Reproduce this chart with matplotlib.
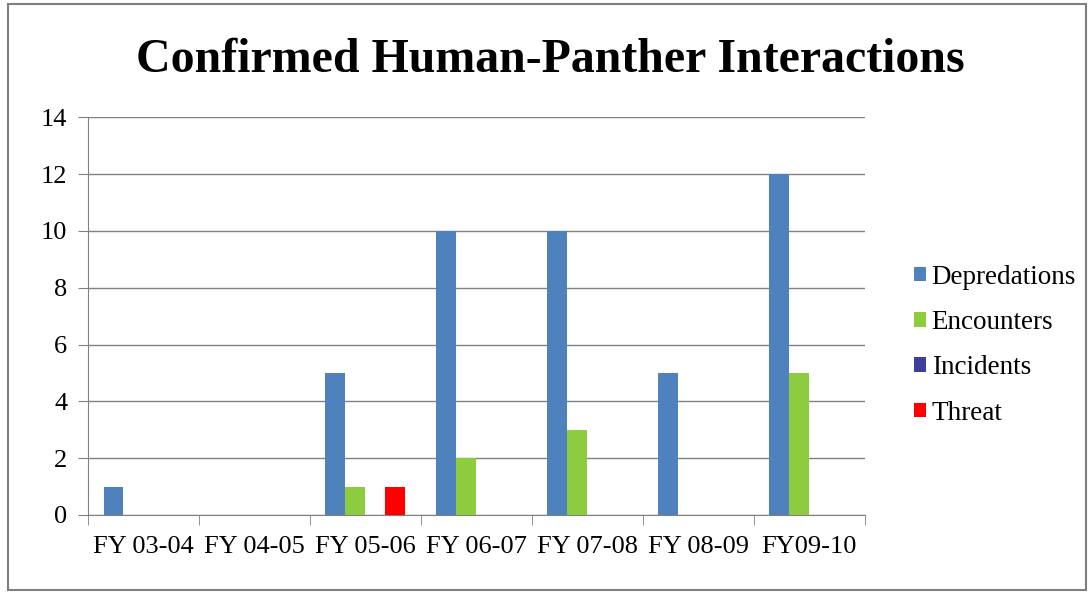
import numpy as np
import matplotlib.pyplot as plt
from matplotlib.patches import Rectangle

# Data
years = ["FY 03-04", "FY 04-05", "FY 05-06", "FY 06-07", "FY 07-08", "FY 08-09", "FY09-10"]
depredations = [1, 0, 5, 10, 10, 5, 12]
encounters = [0, 0, 1, 2, 3, 0, 5]
incidents = [0, 0, 0, 0, 0, 0, 0]
threat = [0, 0, 1, 0, 0, 0, 0]

series = [("Depredations", depredations, "#4F81BD"),
          ("Encounters", encounters, "#8DCB3F"),
          ("Incidents", incidents, "#3D3D9A"),
          ("Threat", threat, "#FF0000")]

plt.rcParams["font.family"] = ["Liberation Serif", "DejaVu Serif"]

fig = plt.figure(figsize=(10.89, 5.95), dpi=100)
ax = fig.add_axes([0.0808, 0.1345, 0.7132, 0.6685])

x = np.arange(len(years))
w = 0.18
for i, (name, vals, col) in enumerate(series):
    ax.bar(x + (i - 1.5) * w, vals, w, color=col, label=name, zorder=3)

ax.set_xlim(-0.5, len(years) - 0.5)
ax.set_ylim(0, 14)
ax.set_yticks(range(0, 15, 2))
ax.grid(axis="y", color="#808080", linewidth=1.0, zorder=0)
ax.set_xticks(x)
ax.set_xticklabels(years, fontsize=19)
ax.set_xticks(np.arange(-0.5, len(years)), minor=True)
ax.tick_params(axis="x", which="major", length=0, pad=15)
ax.tick_params(axis="x", which="minor", length=7, color="#808080", direction="out")
ax.tick_params(axis="y", labelsize=19, length=7, color="#808080", pad=8)
for s in ["top", "right"]:
    ax.spines[s].set_visible(False)
for s in ["left", "bottom"]:
    ax.spines[s].set_color("#808080")

fig.text(0.505, 0.90, "Confirmed Human-Panther Interactions", ha="center", va="center",
         fontsize=34.5, fontweight="bold")

fig.legend(loc="center left", bbox_to_anchor=(0.817, 0.42), frameon=False, fontsize=19.5,
           handlelength=0.45, handleheight=0.45, handletextpad=0.2, labelspacing=0.75)

fig.patches.append(Rectangle((0.007, 0.008), 0.99, 0.985, transform=fig.transFigure,
                             fill=False, edgecolor="#7f7f7f", linewidth=1.5))

fig.savefig("out.png", dpi=100)
